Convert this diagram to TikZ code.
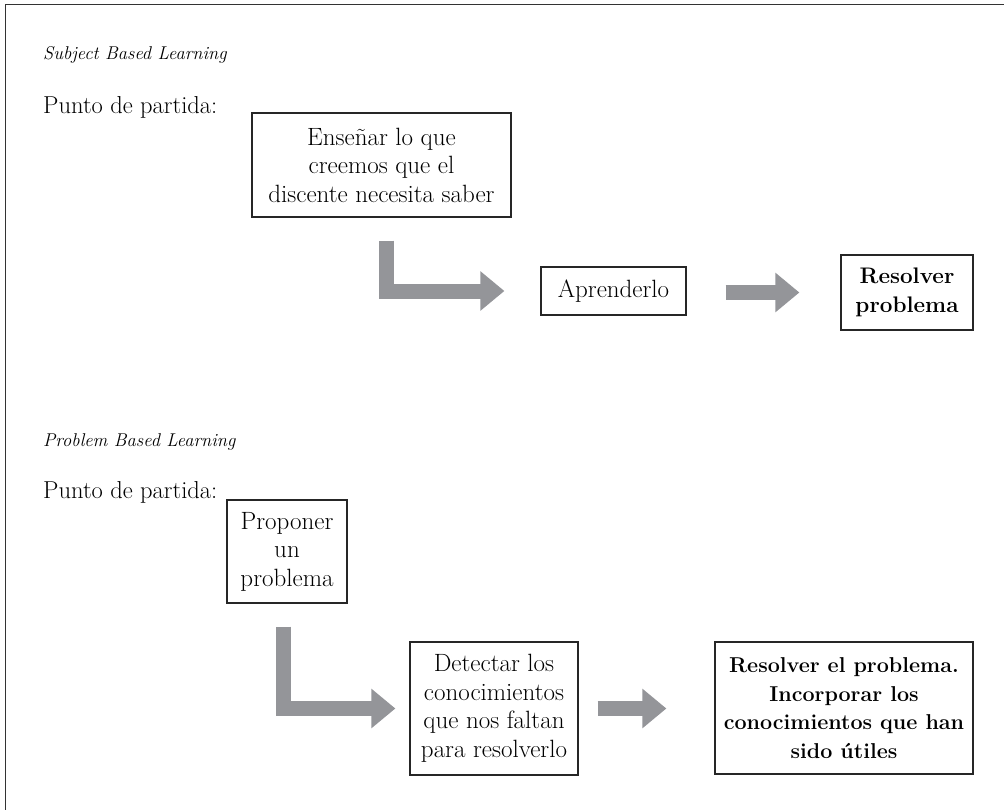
\documentclass[tikz,border=0pt]{standalone}
\usetikzlibrary{arrows.meta}
\definecolor{arrgray}{RGB}{148,149,153}
\begin{document}
\begin{tikzpicture}[x=1pt,y=-1pt,
  box/.style={draw=black!85,line width=1.2pt,inner sep=0pt,align=center,font=\fontsize{25}{28.5}\selectfont},
  boldbox/.style={box,font=\fontsize{21.5}{28.5}\selectfont\bfseries},
  title/.style={anchor=base west,inner sep=0pt,font=\fontsize{18.5}{22}\selectfont\itshape},
  lbl/.style={anchor=base west,inner sep=0pt,font=\fontsize{24.5}{28}\selectfont},
  bigarrow/.style={draw=arrgray,line width=15pt,-{Triangle[length=24pt,width=38pt]},line join=miter}
]
\useasboundingbox (0,0) rectangle (1004,809);
\draw[line width=1.8pt,black!80] (5.5,830) -- (5.5,4.5) -- (1030,4.5);

\node[title] (t1) at (43,59) {Subject Based Learning};
\node[lbl] (pp1) at (43,113) {Punto de partida:};
\node[box,minimum width=259pt,minimum height=104pt] (b1) at (381.5,165) {Enseñar lo que\\creemos que el\\discente necesita saber};
\node[box,minimum width=145pt,minimum height=48pt] (apr) at (613.5,291) {Aprenderlo};
\node[boldbox,minimum width=132pt,minimum height=75pt,font=\fontsize{22.5}{28.5}\selectfont\bfseries] (res1) at (907,292.5) {Resolver\\problema};

\coordinate (a1s) at ([xshift=4.5pt,yshift=-23pt]b1.south);
\coordinate (a1e) at ([xshift=-36pt]apr.west);
\draw[bigarrow] (a1s) |- (a1e);
\coordinate (a2s) at ([xshift=39pt,yshift=-1.5pt]apr.east);
\coordinate (a2e) at ([xshift=-41pt]res1.west |- a2s);
\draw[bigarrow] (a2s) -- (a2e);

\node[title] (t2) at (43,446) {Problem Based Learning};
\node[lbl] (pp2) at (43,498) {Punto de partida:};
\node[box,minimum width=120pt,minimum height=103pt] (p1) at (287,551.5) {Proponer\\un\\problema};
\node[box,minimum width=168pt,minimum height=133pt] (det) at (494,708.5) {Detectar los\\conocimientos\\que nos faltan\\para resolverlo};
\node[boldbox,minimum width=258pt,minimum height=132pt] (res2) at (844,708) {Resolver el problema.\\Incorporar los\\conocimientos que han\\sido útiles};

\coordinate (b1s) at ([xshift=-3.5pt,yshift=-23pt]p1.south);
\coordinate (b1e) at ([xshift=-14pt]det.west);
\draw[bigarrow] (b1s) |- (b1e);
\coordinate (b2s) at ([xshift=19pt]det.east);
\coordinate (b2e) at ([xshift=-48pt]res2.west |- b2s);
\draw[bigarrow] (b2s) -- (b2e);
\end{tikzpicture}
\end{document}
